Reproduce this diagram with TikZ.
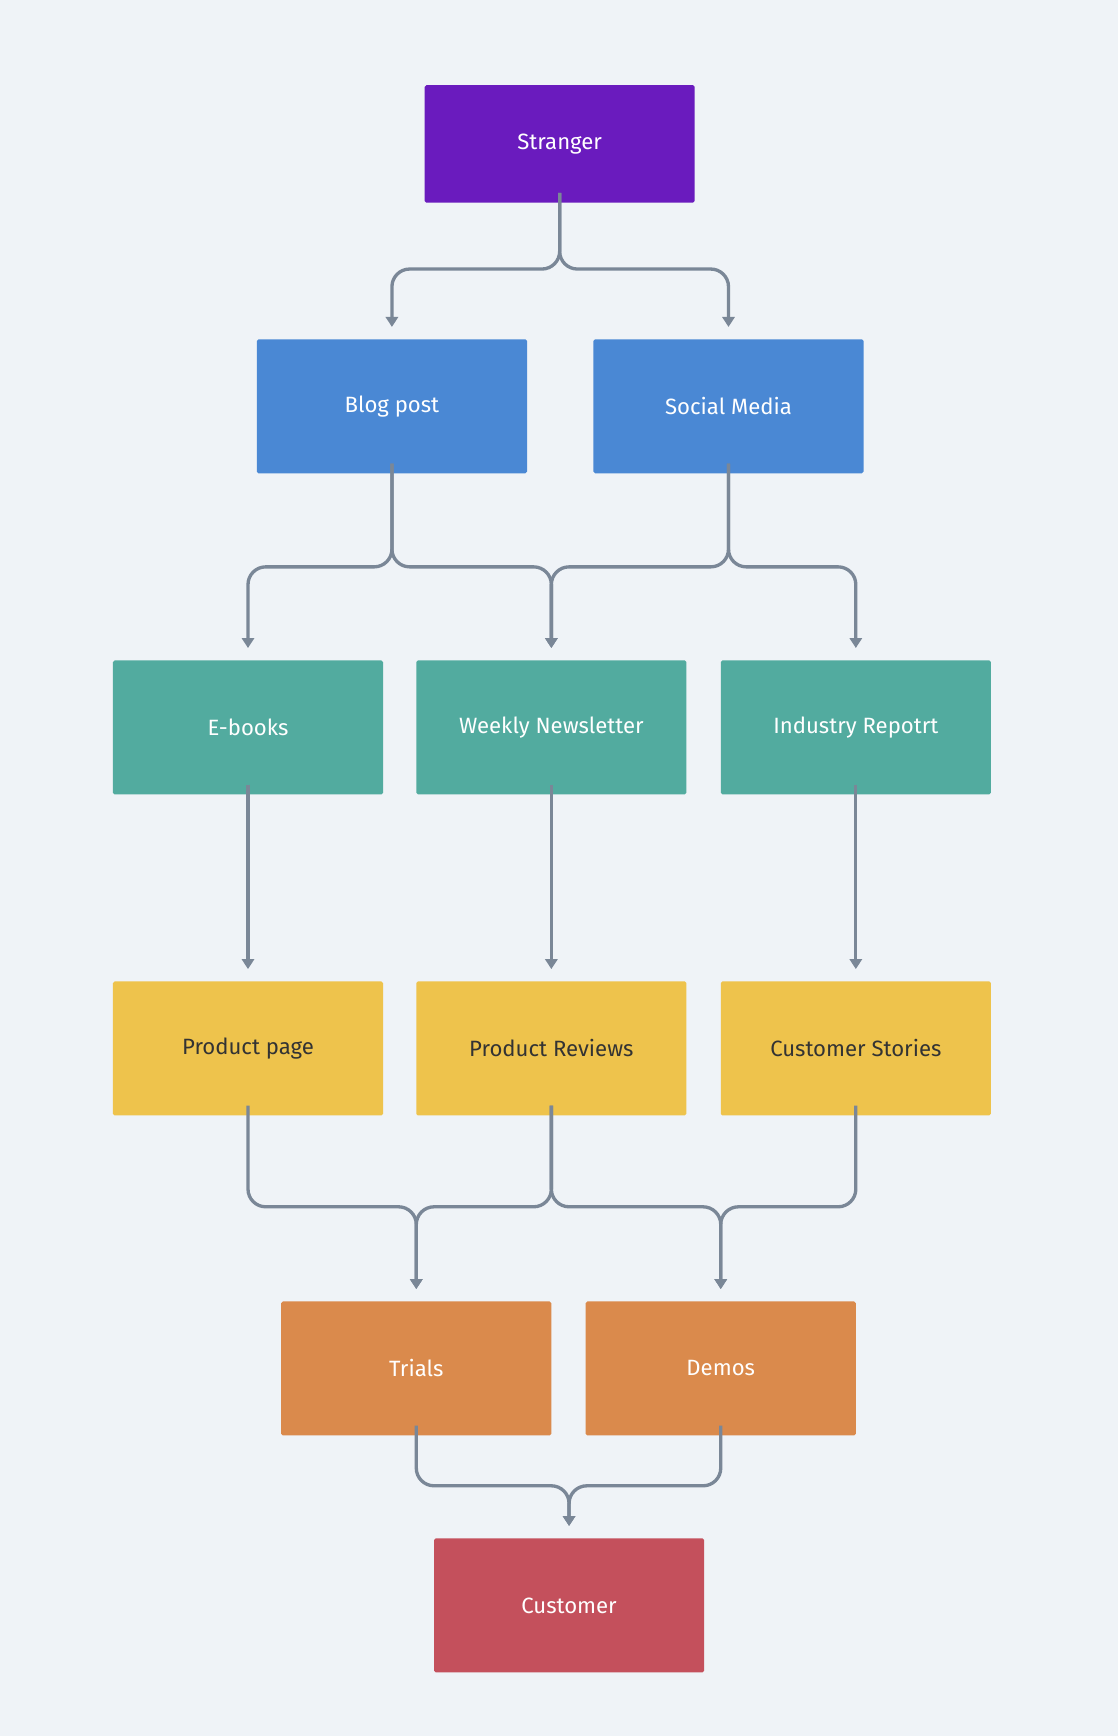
\documentclass[tikz,border=0pt]{standalone}
\usepackage{fontspec}
\setmainfont{Fira Sans}
\usetikzlibrary{arrows.meta}
\definecolor{bgc}{HTML}{EFF3F7}
\definecolor{linec}{HTML}{7A8797}
\definecolor{purp}{HTML}{6A1BBE}
\definecolor{bluec}{HTML}{4A88D4}
\definecolor{tealc}{HTML}{52AB9F}
\definecolor{yelc}{HTML}{EEC34C}
\definecolor{orac}{HTML}{DA8A4C}
\definecolor{redc}{HTML}{C4505C}
\tikzset{
  box/.style={minimum width=244pt, minimum height=121pt, inner sep=0pt, rounded corners=1.5pt,
    text=white, font=\fontsize{20}{24}\selectfont},
  conn/.style={draw=linec, line width=3pt, rounded corners=16pt,
    -{Triangle[length=9pt,width=11pt]}}
}
\begin{document}
\begin{tikzpicture}[x=1pt,y=-1pt]
    \fill[bgc] (0,0) rectangle (1010,1568);
    \useasboundingbox (0,0) rectangle (1010,1568);

    % levels where the lines split or join
    \coordinate (m1) at (0,243);
    \coordinate (m2) at (0,512);
    \coordinate (m4) at (0,1090);
    \coordinate (m5) at (0,1342);

    \node[box, fill=purp, minimum height=106pt] (st) at (505.5,130) {Stranger};

    \node[box, fill=bluec] (bp) at (354,367) {Blog post};
    \node[box, fill=bluec] (sm) at (658,367) {Social Media};

    \node[box, fill=tealc] (eb) at (224,657) {E-books};
    \node[box, fill=tealc] (wn) at (498,657) {Weekly Newsletter};
    \node[box, fill=tealc] (ir) at (773,657) {Industry Repotrt};

    \node[box, fill=yelc, text=black!80] (pp) at (224,947) {Product page};
    \node[box, fill=yelc, text=black!80] (pr) at (498,947) {Product Reviews};
    \node[box, fill=yelc, text=black!80] (cs) at (773,947) {Customer Stories};

    \node[box, fill=orac] (tr) at (376,1236) {Trials};
    \node[box, fill=orac] (de) at (651,1236) {Demos};

    \node[box, fill=redc] (cu) at (514,1450) {Customer};

    \draw[conn] ([yshift=9pt]st.south) |- (bp |- m1) -- ([yshift=11pt]bp.north);
    \draw[conn] ([yshift=9pt]st.south) |- (sm |- m1) -- ([yshift=11pt]sm.north);

    \draw[conn] ([yshift=9pt]bp.south) |- (eb |- m2) -- ([yshift=11pt]eb.north);
    \draw[conn] ([yshift=9pt]bp.south) |- (wn |- m2) -- ([yshift=11pt]wn.north);
    \draw[conn] ([yshift=9pt]sm.south) |- (wn |- m2) -- ([yshift=11pt]wn.north);
    \draw[conn] ([yshift=9pt]sm.south) |- (ir |- m2) -- ([yshift=11pt]ir.north);

    \draw[conn] ([yshift=9pt]eb.south) -- ([yshift=11pt]pp.north);
    \draw[conn] ([yshift=9pt]wn.south) -- ([yshift=11pt]pr.north);
    \draw[conn] ([yshift=9pt]ir.south) -- ([yshift=11pt]cs.north);

    \draw[conn] ([yshift=9pt]pp.south) |- (tr |- m4) -- ([yshift=11pt]tr.north);
    \draw[conn] ([yshift=9pt]pr.south) |- (tr |- m4) -- ([yshift=11pt]tr.north);
    \draw[conn] ([yshift=9pt]pr.south) |- (de |- m4) -- ([yshift=11pt]de.north);
    \draw[conn] ([yshift=9pt]cs.south) |- (de |- m4) -- ([yshift=11pt]de.north);

    \draw[conn] ([yshift=9pt]tr.south) |- (cu |- m5) -- ([yshift=11pt]cu.north);
    \draw[conn] ([yshift=9pt]de.south) |- (cu |- m5) -- ([yshift=11pt]cu.north);
\end{tikzpicture}
\end{document}
